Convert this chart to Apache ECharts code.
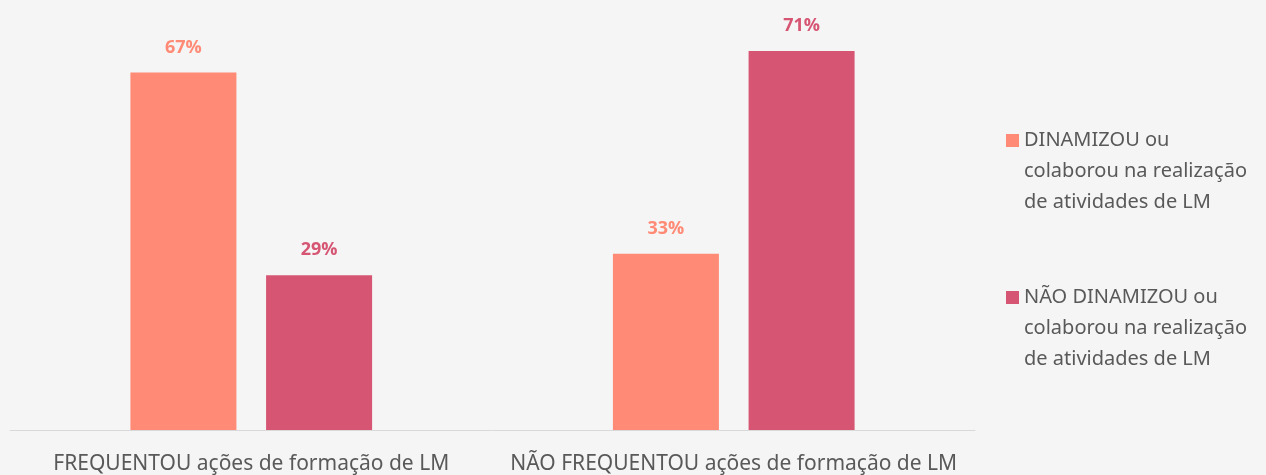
<!DOCTYPE html>
<html>
<head>
<meta charset="utf-8">
<script src="https://cdn.jsdelivr.net/npm/echarts@6/dist/echarts.min.js"></script>
<style>
  html, body { margin: 0; padding: 0; background: #f5f5f5; }
  #main { width: 1266px; height: 475px; }
</style>
</head>
<body>
<div id="main"></div>
<script>
// dados
const categorias = ['FREQUENTOU ações de formação de LM', 'NÃO FREQUENTOU ações de formação de LM'];
const dinamizou = [67, 33];
const naoDinamizou = [29, 71];
const nomes = ['DINAMIZOU ou colaborou na realização de atividades de LM', 'NÃO DINAMIZOU ou colaborou na realização de atividades de LM'];
const cores = ['#ff8a75', '#d65573'];

const chart = echarts.init(document.getElementById('main'));

function rotulo(cor) {
    return {
        show: true,
        position: 'top',
        distance: 16,
        formatter: '{c}%',
        color: cor,
        fontWeight: 'bold',
        fontSize: 18,
        fontFamily: 'Open Sans'
    };
}

const option = {
    backgroundColor: '#f5f5f5',
    animation: false,
    grid: { left: 10, right: 291, top: 3, bottom: 45 },
    legend: {
        orient: 'vertical',
        left: 1001,
        top: 58,
        itemWidth: 13,
        itemHeight: 13,
        itemGap: 2,
        icon: 'rect',
        data: nomes,
        formatter: function(name) {
            // quebra de linha como no original
            const partes = name.split(' colaborou na realização ');
            return '\n\n' + partes[0] + '\ncolaborou na realização\n' + partes[1];
        },
        textStyle: {
            color: '#595959',
            fontSize: 20,
            lineHeight: 31,
            fontFamily: 'Noto Sans'
        }
    },
    xAxis: {
        type: 'category',
        data: categorias,
        axisLine: { lineStyle: { color: '#d9d9d9', width: 1 } },
        axisTick: { show: false },
        axisLabel: {
            interval: 0,
            color: '#595959',
            fontSize: 21,
            margin: 24,
            fontFamily: 'Noto Sans'
        }
    },
    yAxis: {
        type: 'value',
        min: 0,
        max: 80,
        show: false,
        splitLine: { show: false }
    },
    series: [
        {
            name: nomes[0],
            type: 'bar',
            data: dinamizou,
            barWidth: 106,
            barGap: '28%',
            itemStyle: { color: cores[0] },
            label: rotulo(cores[0])
        },
        {
            name: nomes[1],
            type: 'bar',
            data: naoDinamizou,
            barWidth: 106,
            itemStyle: { color: cores[1] },
            label: rotulo(cores[1])
        }
    ]
};

chart.setOption(option);
</script>
</body>
</html>
